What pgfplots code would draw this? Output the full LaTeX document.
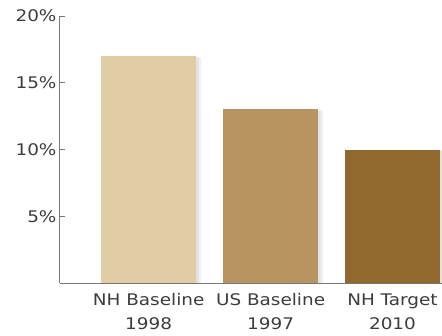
\documentclass[border=0pt]{standalone}
\usepackage{pgfplots}
\pgfplotsset{compat=1.18}
\usepackage{fontspec}
\setmainfont[FakeStretch=1.15]{DejaVu Sans}
\definecolor{barA}{RGB}{226,204,165}
\definecolor{barB}{RGB}{183,148,98}
\definecolor{barC}{RGB}{145,104,45}
\definecolor{axisgrey}{RGB}{120,120,120}
\definecolor{labelgrey}{RGB}{60,60,60}
\begin{document}
\begin{tikzpicture}[x=1pt,y=1pt]
\useasboundingbox (-60,-52) rectangle (382,283);
\begin{axis}[
  at={(0,0)}, anchor=south west,
  scale only axis,
  width=382pt, height=267pt,
  xmin=-0.727, xmax=2.406,
  ymin=0, ymax=20,
  axis x line=bottom, axis y line=left,
  axis line style={axisgrey, line width=1pt, -},
  xtick={0,1,2},
  xticklabels={{NH Baseline\\1998},{US Baseline\\1997},{NH Target\\2010}},
  x tick label style={align=center, font=\fontsize{16}{24}\selectfont, text=labelgrey, yshift=-2pt},
  major x tick style={draw=none},
  ytick={5,10,15,20},
  yticklabels={5\%,10\%,15\%,20\%},
  y tick label style={font=\fontsize{16}{18}\selectfont, text=labelgrey},
  /pgf/number format/assume math mode=true,
  tick align=inside,
  major tick length=5pt,
  major y tick style={axisgrey, line width=1pt},
  ybar, bar width=0.78,
  bar shift=0pt,
]
% soft shadows behind the bars
\addplot[fill=black, fill opacity=0.06, draw=none, bar shift=5pt] coordinates {(0,16.9) (1,12.9) (2,9.9)};
\addplot[fill=black, fill opacity=0.06, draw=none, bar shift=2.5pt] coordinates {(0,16.95) (1,12.95) (2,9.95)};
% the bars
\addplot[fill=barA, draw=none] coordinates {(0,17)};
\addplot[fill=barB, draw=none] coordinates {(1,13)};
\addplot[fill=barC, draw=none] coordinates {(2,10)};
\end{axis}
\end{tikzpicture}
\end{document}
